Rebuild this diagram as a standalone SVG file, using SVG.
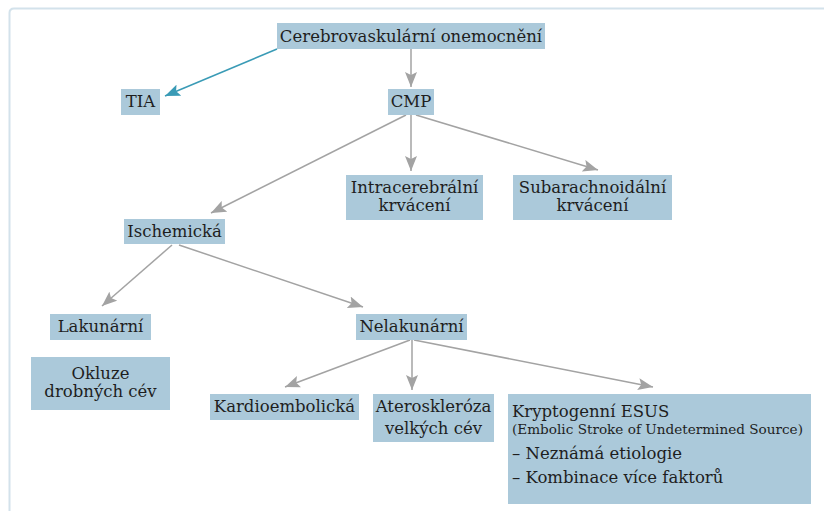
<svg xmlns="http://www.w3.org/2000/svg" width="824" height="511" viewBox="0 0 824 511">
<defs>
<style>
.box{fill:#abc9da}
.t{font-family:"DejaVu Serif","Liberation Serif",serif;font-size:16.5px;fill:#1e1e1e;text-anchor:middle}
.l{text-anchor:start}
.s{font-size:13.6px}
.c{fill:none;stroke:#a3a3a3;stroke-width:1.5}
.teal{stroke:#3a9bb6}
</style>
<marker id="ag" markerUnits="userSpaceOnUse" markerWidth="16" markerHeight="12" viewBox="0 0 16 12" refX="15" refY="6" orient="auto">
<path d="M0,0 L15,6 L0,12 L3,6 Z" fill="#a3a3a3"/>
</marker>
<marker id="at" markerUnits="userSpaceOnUse" markerWidth="16" markerHeight="12" viewBox="0 0 16 12" refX="15" refY="6" orient="auto">
<path d="M0,0 L15,6 L0,12 L3,6 Z" fill="#3a9bb6"/>
</marker>
</defs>
<rect x="0" y="0" width="824" height="511" fill="#ffffff"/>
<path d="M9.5,520 L9.5,13 Q9.5,8.5 14,8.5 L830,8.5" fill="none" stroke="#d3e2eb" stroke-width="2"/>
<g id="connectors">
<line class="c teal" x1="277" y1="49" x2="165" y2="96" marker-end="url(#at)"/>
<line class="c" x1="411" y1="49" x2="411" y2="87" marker-end="url(#ag)"/>
<line class="c" x1="406" y1="115" x2="211" y2="213" marker-end="url(#ag)"/>
<line class="c" x1="411" y1="115" x2="411" y2="171" marker-end="url(#ag)"/>
<line class="c" x1="416" y1="115" x2="598" y2="170" marker-end="url(#ag)"/>
<line class="c" x1="172" y1="245" x2="102" y2="306" marker-end="url(#ag)"/>
<line class="c" x1="179" y1="245" x2="363" y2="307" marker-end="url(#ag)"/>
<line class="c" x1="410" y1="340" x2="285" y2="387" marker-end="url(#ag)"/>
<line class="c" x1="412" y1="340" x2="412" y2="390" marker-end="url(#ag)"/>
<line class="c" x1="414" y1="340" x2="653" y2="387" marker-end="url(#ag)"/>
</g>
<g id="n-cerebro"><rect class="box" x="277" y="23" width="268" height="26"/><text class="t" x="411" y="41.5">Cerebrovaskulární onemocnění</text></g>
<g id="n-tia"><rect class="box" x="121" y="89" width="39" height="26"/><text class="t" x="140.5" y="107">TIA</text></g>
<g id="n-cmp"><rect class="box" x="388" y="89" width="46" height="26"/><text class="t" x="411" y="107">CMP</text></g>
<g id="n-intra"><rect class="box" x="346" y="175" width="137" height="45"/><text class="t" x="414.5" y="193">Intracerebrální</text><text class="t" x="414.5" y="211">krvácení</text></g>
<g id="n-sub"><rect class="box" x="513" y="175" width="159" height="45"/><text class="t" x="592.5" y="193">Subarachnoidální</text><text class="t" x="592.5" y="211">krvácení</text></g>
<g id="n-isch"><rect class="box" x="124" y="219" width="101" height="25"/><text class="t" x="174.5" y="237">Ischemická</text></g>
<g id="n-lak"><rect class="box" x="50" y="314" width="101" height="26"/><text class="t" x="100.5" y="332">Lakunární</text></g>
<g id="n-okl"><rect class="box" x="31" y="357" width="139" height="53"/><text class="t" x="100.5" y="379">Okluze</text><text class="t" x="100.5" y="397">drobných cév</text></g>
<g id="n-nelak"><rect class="box" x="356" y="314" width="111" height="26"/><text class="t" x="411.5" y="332">Nelakunární</text></g>
<g id="n-kardio"><rect class="box" x="210" y="394" width="149" height="26"/><text class="t" x="284.5" y="412">Kardioembolická</text></g>
<g id="n-atero"><rect class="box" x="373" y="394" width="121" height="48"/><text class="t" x="433.5" y="412">Ateroskleróza</text><text class="t" x="433.5" y="434">velkých cév</text></g>
<g id="n-krypto"><rect class="box" x="508" y="394" width="303" height="110"/><text class="t l" x="512" y="417">Kryptogenní ESUS</text><text class="t l s" x="512" y="434">(Embolic Stroke of Undetermined Source)</text><text class="t l" x="512" y="459">– Neznámá etiologie</text><text class="t l" x="512" y="483">– Kombinace více faktorů</text></g>
</svg>
